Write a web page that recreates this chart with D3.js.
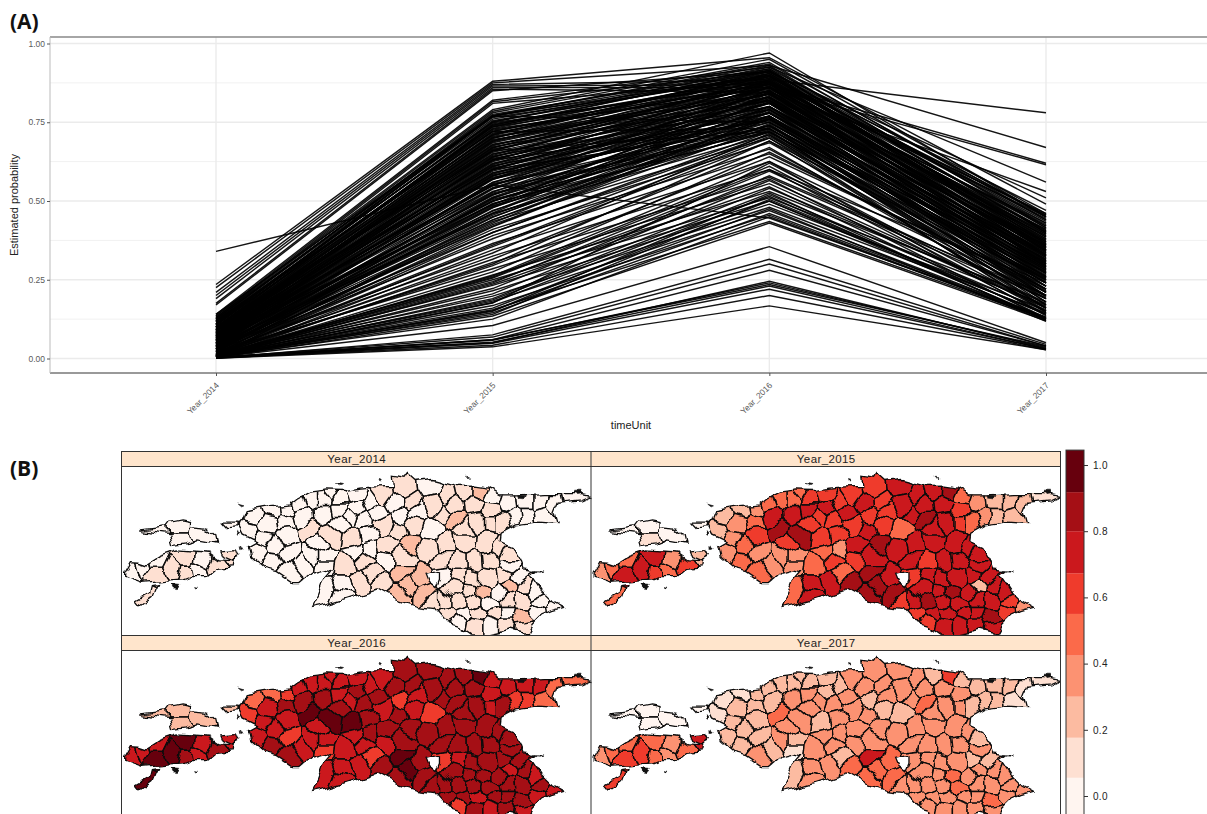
<!DOCTYPE html>
<html><head><meta charset="utf-8">
<script src="https://cdn.jsdelivr.net/npm/d3@7/dist/d3.min.js"></script>
<style>html,body{margin:0;padding:0;background:#fff;overflow:hidden}svg{display:block}text{font-family:"Liberation Sans",Arial,sans-serif}</style>
</head><body><svg id="c" width="1207" height="814"></svg>
<script>
const years = ["Year_2014","Year_2015","Year_2016","Year_2017"];
const yTicks = [0,0.25,0.5,0.75,1];
const yMinor = [0.125,0.375,0.625,0.875];
const legendTicks = [0,0.2,0.4,0.6,0.8,1];
const legendBreaks = [-0.07,0.055,0.176,0.30,0.424,0.55,0.673,0.80,0.918,1.045];

// Estimated probability per unit: 2014, 2015, 2016, 2017
const unitRows = [
[.235,.88,.955,.49],[.225,.875,.93,.67],[.21,.87,.885,.78],[.2,.865,.87,.62],[.19,.86,.86,.615],[.175,.855,.845,.53],[.17,.85,.91,.51],
[.14,.82,.925,.56],[.135,.815,.91,.47],[.13,.81,.88,.46],[.135,.79,.97,.45],[.13,.785,.95,.46],[.12,.78,.94,.44],[.125,.775,.92,.455],[.11,.77,.935,.45],
[.125,.76,.91,.44],[.11,.755,.90,.43],[.12,.75,.925,.42],[.10,.745,.88,.45],[.105,.74,.915,.40],[.095,.735,.87,.41],[.115,.73,.90,.38],[.09,.725,.86,.43],[.10,.72,.895,.39],[.085,.715,.875,.42],
[.11,.71,.91,.36],[.08,.705,.85,.40],[.095,.70,.885,.37],[.075,.695,.84,.41],[.09,.69,.90,.35],[.07,.685,.865,.38],[.085,.68,.83,.39],[.10,.675,.88,.33],[.065,.67,.85,.36],[.08,.665,.82,.37],
[.07,.66,.87,.34],[.06,.655,.84,.35],[.075,.65,.81,.36],[.09,.645,.86,.32],[.055,.64,.83,.33],[.065,.635,.80,.34],[.08,.63,.85,.30],[.05,.625,.82,.32],[.06,.62,.79,.33],[.07,.615,.84,.31],
[.045,.61,.81,.29],[.055,.605,.78,.30],[.065,.60,.83,.27],[.04,.595,.80,.31],[.05,.59,.77,.28],[.06,.585,.82,.26],[.035,.58,.79,.30],[.045,.575,.76,.27],[.055,.57,.81,.25],[.03,.56,.78,.29],
[.04,.555,.75,.26],[.05,.55,.80,.24],[.06,.53,.77,.28],[.03,.525,.74,.25],[.045,.52,.79,.23],[.025,.51,.76,.27],[.035,.505,.73,.24],[.05,.50,.78,.22],[.02,.49,.75,.26],[.03,.485,.72,.23],[.04,.48,.77,.21],[.015,.47,.74,.25],[.025,.46,.71,.22],[.035,.45,.76,.20],
[.13,.765,.895,.455],[.115,.752,.905,.435],[.105,.738,.885,.445],[.12,.722,.87,.425],[.1,.708,.895,.415],[.09,.692,.875,.405],[.08,.678,.855,.395],[.095,.662,.88,.385],[.085,.648,.86,.375],[.07,.632,.84,.365],[.06,.618,.865,.355],[.075,.602,.845,.345],[.05,.588,.825,.355],[.065,.572,.85,.335],
[.04,.558,.83,.325],[.055,.542,.81,.315],[.03,.528,.835,.345],[.045,.512,.815,.305],[.035,.498,.795,.285],[.02,.482,.82,.295],[.03,.468,.8,.275],[.045,.455,.785,.265],[.015,.44,.765,.285],[.025,.43,.79,.255],[.035,.42,.77,.245],
[.11,.768,.915,.405],[.1,.742,.89,.395],[.09,.712,.905,.375],[.08,.688,.87,.35],[.07,.658,.89,.345],[.06,.628,.875,.325],[.05,.598,.86,.315],[.04,.568,.845,.305],[.03,.538,.83,.295],[.02,.508,.815,.285],[.012,.478,.8,.27],[.008,.448,.78,.26],[.006,.418,.76,.24],
[.125,.772,.898,.385],[.118,.748,.878,.365],[.108,.728,.858,.355],[.098,.702,.838,.345],[.088,.672,.818,.335],[.078,.642,.798,.325],[.068,.612,.778,.315],[.058,.582,.758,.305],[.048,.552,.738,.295],[.038,.522,.728,.275],[.028,.492,.718,.255],
[.105,.77,.93,.415],[.115,.735,.92,.365],[.085,.698,.915,.4],[.1,.668,.905,.355],[.072,.638,.895,.37],[.088,.608,.885,.34],[.062,.578,.872,.33],[.078,.548,.862,.31],[.052,.518,.852,.3],[.068,.488,.842,.29],[.042,.462,.825,.28],
[.01,.435,.7,.21],[.02,.425,.735,.26],[.012,.41,.685,.2],[.03,.4,.72,.24],[.008,.39,.665,.19],[.025,.38,.705,.22],[.014,.365,.65,.22],[.018,.355,.69,.25],[.006,.345,.625,.2],[.022,.335,.715,.18],
[.01,.325,.6,.24],[.016,.315,.67,.17],[.005,.305,.575,.19],[.012,.295,.64,.23],[.02,.285,.555,.16],[.008,.275,.655,.21],[.34,.55,.446,.13],[.007,.265,.53,.18],[.012,.258,.61,.15],[.009,.25,.51,.17],
[.006,.24,.595,.19],[.01,.232,.5,.14],[.005,.222,.58,.2],[.008,.215,.49,.155],[.004,.205,.565,.165],[.012,.198,.48,.145],[.006,.19,.54,.175],[.009,.182,.47,.13],[.004,.176,.62,.16],[.007,.168,.455,.125],
[.005,.155,.435,.125],[.006,.15,.52,.15],[.004,.145,.46,.13],[.007,.14,.505,.14],[.003,.135,.43,.12],[.005,.125,.45,.125],[.004,.105,.355,.05],[.002,.075,.315,.045],[.003,.068,.30,.04],[.002,.06,.28,.04],
[.002,.058,.24,.035],[.002,.052,.23,.03],[.001,.048,.22,.03],[.002,.042,.2,.028],[.001,.037,.167,.028],
[.14,.77,.75,.24],[.12,.72,.73,.2],[.1,.66,.72,.19],[.08,.6,.73,.21],[.06,.54,.72,.18],[.05,.5,.74,.17],[.04,.46,.725,.16],[.09,.63,.755,.23],[.07,.57,.765,.215],[.03,.44,.745,.195],
[.008,.262,.625,.135],[.006,.255,.6,.14],[.01,.244,.57,.125],[.005,.236,.545,.13],[.009,.186,.525,.12],[.004,.178,.515,.122],[.007,.16,.5,.128],[.006,.152,.475,.118],[.012,.3,.69,.16],[.01,.36,.7,.15],[.008,.4,.71,.145],
[.004,.05,.245,.032],[.003,.06,.235,.038]
];

// Map: outlines in survey-grid units, from the reference map
const mainlandOutline = [[395,230],[408,197],[470,186],[540,180],[565,160],[600,141],[650,135],[700,137],[740,130],[790,126],[850,125],[847,100],[885,106],[895,92],[915,110],[960,104],[1000,115],[1040,125],[1090,124],[1130,130],[1165,150],[1220,150],[1300,146],[1400,146],[1440,155],[1410,168],[1340,175],[1330,200],[1340,236],[1280,232],[1215,240],[1170,265],[1167,290],[1200,305],[1225,345],[1235,375],[1280,380],[1260,395],[1290,440],[1315,465],[1355,487],[1320,497],[1290,510],[1260,540],[1245,566],[1200,555],[1130,570],[1080,570],[1040,542],[1000,530],[965,490],[920,485],[860,465],[800,432],[760,445],[700,465],[650,480],[600,490],[620,450],[635,410],[660,380],[640,375],[600,385],[570,410],[545,410],[500,380],[460,370],[420,335],[413,305],[440,290],[400,270],[385,240]];
const lakeOutline = [[945,385],[985,375],[985,400],[975,425],[955,410]];
const hiiumaaOutline = [[95,255],[170,245],[180,232],[215,225],[240,230],[240,245],[290,250],[312,270],[318,295],[262,285],[225,300],[190,305],[180,270],[120,262]];
const saaremaaOutline = [[40,385],[60,350],[85,352],[110,360],[150,335],[200,318],[290,325],[320,345],[368,348],[365,365],[320,370],[290,395],[240,395],[215,405],[150,410],[90,415],[40,397]];
const muhuOutline = [[328,318],[382,314],[390,335],[365,348],[335,335]];
const vormsiOutline = [[330,232],[385,232],[385,245],[345,248]];
const sorveOutline = [[138,422],[125,455],[92,480],[80,465],[115,445],[120,425]];
const isletOutlines = [[[380,175],[397,180],[390,183]],[[183,422],[205,424],[198,434],[188,432]],[[680,113],[695,116],[688,120]],[[1392,142],[1415,142],[1410,150],[1398,152]],[[255,422],[264,424],[260,428]],[[1222,150],[1245,152],[1240,162],[1225,160]],[[1272,377],[1292,378],[1285,382]],[[807,104],[814,106],[810,112]],[[292,245],[300,247],[296,250]],[[378,262],[392,270],[384,274]],[[395,305],[402,318],[396,320]],[[1072,94],[1078,96],[1076,99]]];

// District centres in survey-grid units
const districtGrid = [
[210,250],[265,265],[210,285],[130,258],[355,238],[355,330],
[65,370],[95,362],[140,395],[140,350],[190,375],[225,340],[225,382],[265,375],[280,345],[315,360],[110,460],
[430,215],[480,197],[530,190],[420,255],[470,235],[520,225],[575,210],[460,280],[525,275],[600,260],[440,320],[490,295],[485,350],[540,325],[570,350],[530,385],[620,300],[640,330],[640,355],
[725,280],[690,235],[640,205],[640,165],[600,165],[690,160],[690,195],[740,190],[780,175],[760,230],[735,320],[780,315],
[880,140],[960,130],[1010,150],[1060,140],[1105,142],[1145,160],[1190,175],[1240,170],[1290,170],[1240,212],[1300,205],[1375,170],
[850,175],[900,170],[870,210],[920,200],[970,180],[1030,180],[1090,175],[1140,195],[1030,225],[1100,230],[1170,230],[960,255],[910,240],[860,255],[815,235],
[830,300],[905,295],[950,310],[1000,300],[1060,290],[1130,300],[1190,330],[870,345],[820,345],[760,345],[700,360],[780,385],
[870,385],[895,420],[925,405],[870,445],[940,445],[810,410],[750,410],[700,420],[650,440],[690,455],[965,470],
[1005,385],[1040,395],[1080,400],[1130,400],[1180,390],[1220,400],[1040,350],[1090,350],[1140,345],[1190,365],
[1030,430],[1075,440],[1118,440],[1160,440],[1195,420],[1240,425],[1275,440],
[1000,470],[1045,470],[1090,470],[1140,480],[1190,470],[1240,465],[1290,470],[1325,487],
[1010,510],[1060,505],[1100,500],[1150,510],[1190,505],[1235,518],[1280,495],
[1040,530],[1090,540],[1140,540],[1190,540],[1240,548],
[565,178],[665,145],[725,150],[815,150],[715,215],[800,205],[1000,205],[1140,230],[1210,215],[1330,180],[660,270],[770,270],[600,330],[1000,340],[1160,315],[1060,250]
];
const district2014 = [.03,.03,.04,.02,.03,.1,.03,.05,.13,.05,.13,.14,.12,.03,.03,.14,.14,
.03,.03,.03,.03,.04,.03,.03,.03,.03,.14,.03,.05,.03,.03,.05,.03,.03,.05,.03,
.14,.03,.05,.04,.03,.03,.03,.05,.03,.05,.03,.03,
.13,.05,.1,.1,.25,.05,.04,.03,.03,.04,.03,.03,
.05,.12,.03,.03,.1,.12,.1,.1,.25,.14,.1,.03,.1,.1,.1,
.13,.2,.1,.1,.1,.12,.12,.1,.03,.1,.1,.1,
.25,.26,.2,.26,.28,.12,.1,.05,.03,.05,.12,
.05,.1,.1,.12,.1,.05,.12,.1,.1,.05,
.1,.1,.25,.05,.2,.1,.05,
.1,.1,.12,.05,.1,.1,.05,.05,
.1,.05,.1,.1,.05,.25,.05,
.03,.1,.05,.1,.12,
.03,.05,.03,.1,.03,.05,.1,.1,.03,.03,.12,.03,.03,.1,.1,.1];
const district2015 = [.05,.03,.15,.03,.04,.22,
.42,.49,.74,.49,.74,.74,.61,.49,.36,.61,.49,
.24,.24,.36,.24,.36,.49,.74,.36,.61,.86,.36,.49,.49,.36,.36,.49,.61,.36,.36,
.61,.61,.74,.49,.49,.61,.74,.74,.61,.61,.49,.36,
.61,.74,.74,.74,.86,.49,.36,.25,.2,.25,.24,.12,
.74,.61,.61,.61,.74,.74,.74,.61,.86,.74,.49,.5,.61,.74,.61,
.74,.86,.74,.74,.74,.74,.74,.74,.61,.61,.49,.49,
.86,.86,.74,.86,.86,.86,.74,.74,.49,.74,.61,
.61,.74,.74,.74,.74,.74,.61,.74,.74,.74,
.74,.74,.86,.74,.24,.74,.74,
.74,.86,.74,.74,.74,.74,.61,.36,
.61,.74,.74,.74,.74,.86,.61,
.61,.74,.74,.74,.74,
.49,.49,.61,.61,.61,.74,.74,.61,.3,.2,.86,.61,.36,.74,.74,.74];
const district2016 = [.24,.24,.24,.24,.24,.74,
.74,.74,.98,.74,.98,.98,.86,.74,.74,.86,.98,
.49,.49,.61,.61,.74,.86,.86,.74,.74,.98,.74,.74,.86,.61,.74,.86,.74,.74,.61,
.98,.86,.86,.74,.74,.74,.74,.86,.74,.86,.74,.86,
.86,.86,.86,.86,.98,.74,.74,.74,.74,.61,.49,.49,
.86,.86,.61,.74,.86,.86,.86,.74,.86,.86,.86,.61,.74,.86,.74,
.86,.86,.86,.86,.86,.86,.86,.86,.74,.74,.74,.61,
.98,.98,.86,.86,.86,.86,.74,.74,.74,.74,.86,
.61,.74,.86,.86,.86,.86,.86,.86,.86,.86,
.86,.86,.86,.86,.74,.86,.74,
.86,.86,.86,.86,.86,.86,.86,.74,
.86,.86,.74,.86,.86,.86,.74,
.61,.86,.74,.86,.74,
.74,.74,.74,.74,.74,.86,.86,.74,.61,.49,.98,.86,.74,.86,.86,.86];
const district2017 = [.03,.03,.03,.02,.03,.74,
.36,.49,.61,.49,.61,.49,.49,.36,.36,.49,.61,
.12,.12,.24,.12,.24,.24,.24,.24,.24,.49,.24,.24,.24,.24,.24,.36,.3,.24,.12,
.24,.36,.36,.24,.24,.24,.36,.24,.24,.36,.36,.36,
.36,.36,.36,.24,.61,.24,.24,.24,.24,.24,.12,.12,
.36,.36,.24,.36,.36,.36,.36,.36,.49,.36,.24,.24,.24,.36,.36,
.36,.36,.36,.36,.36,.36,.24,.36,.3,.3,.3,.24,
.74,.49,.49,.49,.49,.49,.36,.36,.24,.36,.36,
.36,.36,.36,.36,.24,.24,.36,.36,.36,.36,
.36,.36,.49,.36,.36,.36,.36,
.36,.36,.36,.49,.36,.36,.36,.36,
.36,.36,.36,.36,.36,.49,.36,
.36,.36,.36,.36,.36,
.24,.24,.24,.36,.3,.36,.36,.36,.24,.12,.36,.3,.3,.36,.36,.36];
const districtValues = [district2014,district2015,district2016,district2017];

const svg = d3.select("#c");
const grey = "#5a5a5a";
const defs = svg.append("defs");
const soft = defs.append("filter").attr("id","soft").attr("filterUnits","userSpaceOnUse").attr("x",0).attr("y",0).attr("width",1207).attr("height",814);
soft.append("feGaussianBlur").attr("stdDeviation",0.35);

/* ---------- Panel A ---------- */
const A = {l:50,r:1207,t:37,b:373};
const x = d3.scalePoint().domain(years).range([216,1046]);
const y = d3.scaleLinear().domain([0,1]).range([358.5,43.5]);
const a = svg.append("g");
a.selectAll("line.minor").data(yMinor).join("line").attr("x1",A.l).attr("x2",A.r).attr("y1",y).attr("y2",y).attr("stroke","#f1f1f1").attr("stroke-width",1);
a.selectAll("line.major").data(yTicks).join("line").attr("x1",A.l).attr("x2",A.r).attr("y1",y).attr("y2",y).attr("stroke","#ebebeb").attr("stroke-width",1.6);
a.selectAll("line.vert").data(years).join("line").attr("x1",d=>x(d)).attr("x2",d=>x(d)).attr("y1",A.t).attr("y2",A.b).attr("stroke","#ebebeb").attr("stroke-width",1.4);
const line = d3.line().x((d,i)=>x(years[i])).y(d=>y(d));
a.append("g").attr("filter","url(#soft)").selectAll("path").data(unitRows).join("path").attr("d",line).attr("fill","none").attr("stroke","#000").attr("stroke-width",1.45).attr("stroke-opacity",.92);
a.append("line").attr("x1",A.l).attr("x2",A.r).attr("y1",A.t).attr("y2",A.t).attr("stroke","#888").attr("stroke-width",1.5);
a.append("line").attr("x1",A.l).attr("x2",A.r).attr("y1",A.b).attr("y2",A.b).attr("stroke","#777").attr("stroke-width",1.5);
a.append("line").attr("x1",A.l).attr("x2",A.l).attr("y1",A.t).attr("y2",A.b).attr("stroke","#bbb").attr("stroke-width",1);
const ay = a.append("g").attr("transform",`translate(${A.l},0)`).call(d3.axisLeft(y).tickValues(yTicks).tickFormat(d3.format(".2f")).tickSize(3));
ay.select(".domain").remove();
ay.selectAll("line").attr("stroke","#555");
ay.selectAll("text").attr("fill",grey).attr("font-size",8.5).attr("dx",1);
const ax = a.append("g").attr("transform",`translate(0,${A.b})`).call(d3.axisBottom(x).tickSize(3));
ax.select(".domain").remove();
ax.selectAll("line").attr("stroke","#555");
ax.selectAll("text").attr("fill",grey).attr("font-size",8.5).attr("text-anchor","end").attr("dy",0).attr("y",0)
  .attr("transform","translate(3,13) rotate(-45)");
a.append("text").attr("x",15).attr("y",205).attr("transform","rotate(-90 15 205)").attr("text-anchor","middle").attr("dominant-baseline","middle").attr("font-size",11).attr("fill","#222").text("Estimated probability");
a.append("text").attr("x",631).attr("y",429).attr("text-anchor","middle").attr("font-size",11).attr("fill","#222").text("timeUnit");
svg.append("text").attr("x",10).attr("y",29).attr("font-weight",700).attr("font-size",21).attr("fill","#111").style("font-family","'Open Sans'").text("(A)");
svg.append("text").attr("x",10).attr("y",476).attr("font-weight",700).attr("font-size",21).attr("fill","#111").style("font-family","'Open Sans'").text("(B)");

/* ---------- Panel B ---------- */
const color = d3.scaleThreshold().domain(legendBreaks.slice(1,-1)).range(d3.schemeReds[9]);
const pw = 469.5, ph = 168.5;
const mx = d3.scaleLinear().domain([35,1440]).range([0,pw]);
const my = d3.scaleLinear().domain([65,570]).range([0,ph]);
const ring = d3.line().x(d=>mx(d[0])).y(d=>my(d[1])).curve(d3.curveLinearClosed);
const landD = [mainlandOutline,lakeOutline,hiiumaaOutline,saaremaaOutline,muhuOutline,vormsiOutline,sorveOutline].map(r=>ring(r)).join("");
const seeds = districtGrid.map(d=>[mx(d[0]),my(d[1])]);
const voronoi = d3.Delaunay.from(seeds).voronoi([-20,-20,pw+20,ph+20]);

const wig = defs.append("filter").attr("id","wiggle").attr("filterUnits","userSpaceOnUse").attr("x",-10).attr("y",-10).attr("width",pw+20).attr("height",ph+20).attr("color-interpolation-filters","sRGB");
wig.append("feTurbulence").attr("type","fractalNoise").attr("baseFrequency",0.055).attr("numOctaves",2).attr("seed",4).attr("result","n");
wig.append("feDisplacementMap").attr("in","SourceGraphic").attr("in2","n").attr("scale",11).attr("xChannelSelector","R").attr("yChannelSelector","G").attr("result","d");
wig.append("feGaussianBlur").attr("in","d").attr("stdDeviation",0.3);
defs.append("clipPath").attr("id","land").append("path").attr("d",landD).attr("clip-rule","evenodd");
defs.append("clipPath").attr("id","panelClip").append("rect").attr("width",pw).attr("height",ph);

const panels = [[122,466.5],[591.5,466.5],[122,650.5],[591.5,650.5]];
const b = svg.append("g");
[[122,451],[591.5,451],[122,635],[591.5,635]].forEach((s,i)=>{
  b.append("rect").attr("x",s[0]).attr("y",s[1]).attr("width",pw).attr("height",15).attr("fill","#ffe5cc");
  b.append("text").attr("x",s[0]+pw/2).attr("y",s[1]+12).attr("text-anchor","middle").attr("font-size",11.5).attr("letter-spacing",".4").attr("fill","#222").text(years[i]);
});
panels.forEach((p,i)=>{
  const vals = districtValues[i];
  const g = b.append("g").attr("transform",`translate(${p[0]},${p[1]})`);
  const inner = g.append("g").attr("clip-path","url(#panelClip)").append("g").attr("filter","url(#wiggle)");
  const land = inner.append("g").attr("clip-path","url(#land)");
  land.selectAll("path").data(seeds).join("path").attr("d",(d,k)=>voronoi.renderCell(k)).attr("fill",(d,k)=>color(vals[k])).attr("stroke","#0c0c0c").attr("stroke-width",1.4).attr("stroke-linejoin","round");
  inner.append("path").attr("d",landD).attr("fill","none").attr("fill-rule","evenodd").attr("stroke","#0c0c0c").attr("stroke-width",1.3);
  inner.selectAll("path.islet").data(isletOutlines).join("path").attr("class","islet").attr("d",ring).attr("fill","#111").attr("stroke","#111").attr("stroke-width",.6);
});
const frame = "#333";
[451,466,635,650].forEach(v=>b.append("line").attr("x1",121.5).attr("x2",1060.5).attr("y1",v+.5).attr("y2",v+.5).attr("stroke",frame).attr("stroke-width",1));
[121.5,591,1060.5].forEach(v=>b.append("line").attr("x1",v).attr("x2",v).attr("y1",451).attr("y2",814).attr("stroke",frame).attr("stroke-width",1));

const ky = d3.scaleLinear().domain([0,1]).range([796,465]);
const keyBands = d3.pairs(legendBreaks);
b.selectAll("rect.key").data(keyBands).join("rect").attr("class","key").attr("x",1066).attr("width",18).attr("y",d=>ky(d[1])).attr("height",d=>ky(d[0])-ky(d[1])).attr("fill",d=>color((d[0]+d[1])/2));
b.append("rect").attr("x",1066).attr("y",ky(legendBreaks[9])).attr("width",18).attr("height",ky(legendBreaks[0])-ky(legendBreaks[9])).attr("fill","none").attr("stroke","#333");
const kax = b.append("g").attr("transform","translate(1084,0)").call(d3.axisRight(ky).tickValues(legendTicks).tickFormat(d3.format(".1f")).tickSize(4));
kax.select(".domain").remove();
kax.selectAll("line").attr("stroke","#333");
kax.selectAll("text").attr("fill","#222").attr("font-size",10).attr("letter-spacing",".3").attr("dx",2);
</script></body></html>
